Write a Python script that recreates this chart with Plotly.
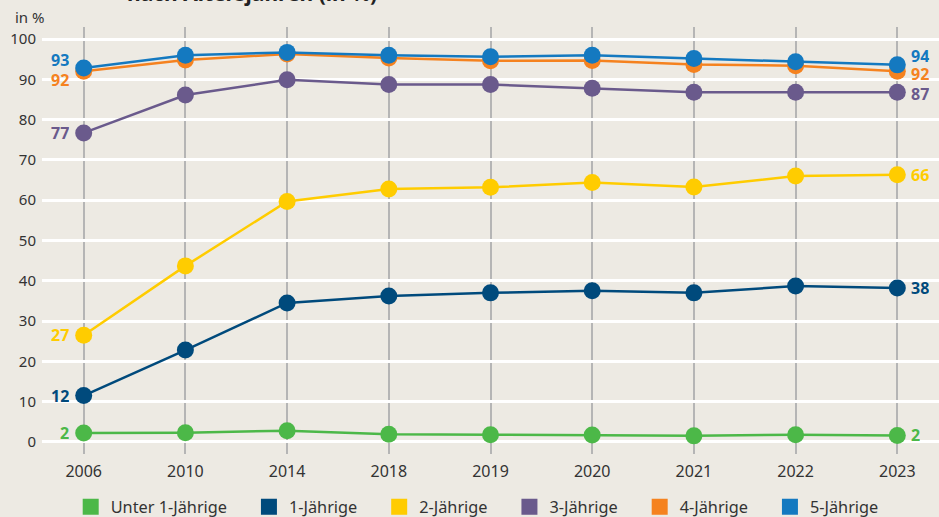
import plotly.graph_objects as go

years = ["2006", "2010", "2014", "2018", "2019", "2020", "2021", "2022", "2023"]
series_names = ["Unter 1-Jährige", "1-Jährige", "2-Jährige", "3-Jährige", "4-Jährige", "5-Jährige"]
unter1 = [2.2, 2.3, 2.8, 1.9, 1.8, 1.7, 1.5, 1.8, 1.6]
j1 = [11.5, 22.8, 34.5, 36.2, 37.0, 37.5, 37.0, 38.7, 38.2]
j2 = [26.5, 43.7, 59.7, 62.8, 63.2, 64.4, 63.3, 66.0, 66.3]
j3 = [76.7, 86.1, 89.9, 88.7, 88.7, 87.8, 86.8, 86.8, 86.8]
j4 = [92.0, 94.8, 96.3, 95.3, 94.6, 94.7, 93.7, 93.4, 92.0]
j5 = [92.8, 96.0, 96.7, 96.0, 95.6, 96.0, 95.2, 94.4, 93.6]
start_labels = ["2", "12", "27", "77", "92", "93"]
end_labels = ["2", "38", "66", "87", "92", "94"]

colors = ["#4cb848", "#004a7c", "#ffcc00", "#6a5a8c", "#f5821f", "#1479c0"]
values = [unter1, j1, j2, j3, j4, j5]
start_shift = [0, 0, 0, 0, -9, 8]
end_shift = [0, 0, 0, -2, -3, 9]

bg = "#edeae3"
fnt = "Noto Sans"
pad = "&nbsp;" * 4

fig = go.Figure()
for name, vals, col in zip(series_names, values, colors):
    fig.add_trace(go.Scatter(
        x=years, y=vals, mode="lines+markers", name=name,
        line=dict(color=col, width=2.5),
        marker=dict(color=col, size=17),
        showlegend=False, cliponaxis=False,
    ))
# legend entries
for name, col in zip(series_names, colors):
    fig.add_trace(go.Scatter(
        x=[None], y=[None], mode="markers", name=name + pad,
        marker=dict(color=col, size=16, symbol="square"),
        showlegend=True,
    ))

last = len(years) - 1
ann = []
for vals, col, lab, sh in zip(values, colors, start_labels, start_shift):
    ann.append(dict(x=0, y=vals[0], xref="x", yref="y", text="<b>%s</b>" % lab,
                    showarrow=False, xanchor="right", xshift=-14, yshift=sh,
                    height=16, valign="middle", borderpad=0,
                    font=dict(family=fnt, size=16, color=col)))
for vals, col, lab, sh in zip(values, colors, end_labels, end_shift):
    ann.append(dict(x=last, y=vals[-1], xref="x", yref="y", text="<b>%s</b>" % lab,
                    showarrow=False, xanchor="left", xshift=13, yshift=sh,
                    height=16, valign="middle", borderpad=0,
                    font=dict(family=fnt, size=16, color=col)))
ann.append(dict(x=0, y=1, xref="paper", yref="paper", text="in %", showarrow=False,
                xanchor="left", yanchor="bottom", xshift=-29, yshift=-2,
                font=dict(family=fnt, size=15, color="#333333")))
ann.append(dict(x=0, y=1, xref="paper", yref="paper", text="<b>nach Altersjahren (in %)</b>",
                showarrow=False, xanchor="left", yanchor="bottom", xshift=83, yshift=18,
                font=dict(family=fnt, size=21, color="#222222")))

fig.update_layout(
    width=939, height=517,
    margin=dict(l=42, r=0, t=27, b=63, autoexpand=False),
    paper_bgcolor=bg, plot_bgcolor=bg,
    font=dict(family=fnt, size=15, color="#333333"),
    xaxis=dict(type="category", range=[-0.41, 8.41], showgrid=True, gridcolor="#b5b5b5",
               gridwidth=1.5, zeroline=False, showline=False, ticks="",
               tickfont=dict(size=16, color="#333333"), ticklabelstandoff=6),
    yaxis=dict(range=[-3, 103], tickvals=list(range(0, 101, 10)), showgrid=True,
               gridcolor="#ffffff", gridwidth=2.5, zeroline=False, showline=False,
               ticks="", tickfont=dict(size=15, color="#333333"), ticklabelstandoff=5),
    legend=dict(orientation="h", x=0.032, y=0.019, xanchor="left", yanchor="middle",
                yref="container",
                bgcolor="rgba(0,0,0,0)", font=dict(size=16.3, color="#333333"),
                itemsizing="trace"),
    annotations=ann,
    showlegend=True,
)
fig.write_html("out.html", config={"displayModeBar": False},
               post_script="document.body.style.margin='0';")
